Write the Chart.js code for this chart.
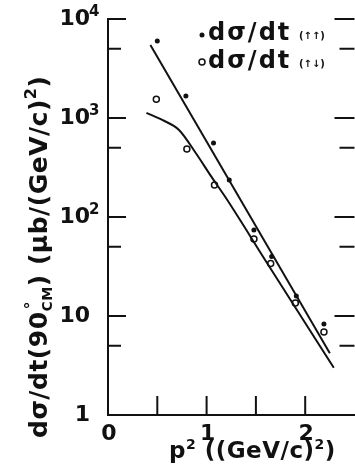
<!DOCTYPE html>
<html>
<head>
<meta charset="utf-8">
<script src="https://cdn.jsdelivr.net/npm/chart.js@4.4.1/dist/chart.umd.min.js"></script>
<style>
  html, body { margin: 0; padding: 0; background: #fff; overflow: hidden; }
  canvas { display: block; }
</style>
</head>
<body>
<canvas id="plot" width="360" height="474"></canvas>
<script>
// measured points, d sigma/dt (up up) and (up down)
const upUpX = [0.50, 0.79, 1.07, 1.23, 1.48, 1.66, 1.91, 2.19];
const upUpY = [6000, 1670, 560, 237, 74, 40, 15.9, 8.3];
const upDownX = [0.49, 0.80, 1.08, 1.48, 1.65, 1.90, 2.19];
const upDownY = [1550, 487, 210, 60, 34, 13.5, 6.9];

// the two drawn curves
const fitX = [0.43, 2.25];
const fitY = [5460, 4.2];
const curveX = [0.39, 0.55, 0.72, 0.89, 1.05, 1.19, 1.60, 2.29];
const curveY = [1125, 955, 757, 443, 254, 159, 36, 3.0];

// ticks
const xTicks = [0.5, 1, 1.5, 2];
const xTickLabels = ['0', '1', '2'];
const xLabelAt = [0, 1, 2];
const yMajor = [1, 10, 100, 1000, 10000];
const yMinor = [5, 50, 500, 5000];
const yBase = ['1', '10', '10', '10', '10'];
const yExp = ['', '', '2', '3', '4'];

const ink = '#111';
const face = '"DejaVu Sans", Verdana, sans-serif';

function pts(xs, ys) {
    return xs.map((v, i) => ({ x: v, y: ys[i] }));
}

// ticks, labels, titles and legend drawn on top, placed by the chart's scales
const decor = {
    id: 'decor',
    afterDraw(chart) {
        const ctx = chart.ctx;
        const a = chart.chartArea;
        const x = chart.scales.x;
        const y = chart.scales.y;
        ctx.save();
        ctx.strokeStyle = ink;
        ctx.fillStyle = ink;
        ctx.lineWidth = 2;

        // inward ticks (the right-hand set belongs to the next panel's frame)
        ctx.beginPath();
        yMajor.forEach(v => {
            let py = y.getPixelForValue(v);
            ctx.moveTo(a.left, py); ctx.lineTo(a.left + 18, py);
            ctx.moveTo(a.right, py); ctx.lineTo(a.right - 20, py);
        });
        yMinor.forEach(v => {
            let py = y.getPixelForValue(v);
            ctx.moveTo(a.left, py); ctx.lineTo(a.left + 13, py);
            ctx.moveTo(a.right, py); ctx.lineTo(a.right - 15, py);
        });
        xTicks.forEach(v => {
            let px = x.getPixelForValue(v);
            ctx.moveTo(px, a.bottom); ctx.lineTo(px, a.bottom - 19);
        });
        ctx.stroke();

        // y tick labels
        ctx.textBaseline = 'alphabetic';
        yMajor.forEach((v, i) => {
            let py = y.getPixelForValue(v);
            ctx.font = 'bold 22px ' + face;
            ctx.textAlign = 'right';
            ctx.fillText(yBase[i], 90, py + 6);
            if (yExp[i]) {
                ctx.font = 'bold 15px ' + face;
                ctx.textAlign = 'left';
                ctx.fillText(yExp[i], 89, py - 3);
            }
        });

        // x tick labels
        ctx.font = 'bold 22px ' + face;
        ctx.textAlign = 'center';
        xLabelAt.forEach((v, i) => {
            ctx.fillText(xTickLabels[i], x.getPixelForValue(v) + 1, 440);
        });

        // x title
        ctx.textAlign = 'left';
        let cx = 169;
        const run = (t, size, dy) => {
            ctx.font = 'bold ' + size + 'px ' + face;
            ctx.fillText(t, cx, 458 + dy);
            cx += ctx.measureText(t).width;
        };
        ctx.letterSpacing = '0.5px';
        run('p', 23, 0);
        run('2', 14, -9);
        run(' ((GeV/c)', 23, 0);
        run('2', 14, -9);
        run(')', 23, 0);

        // y title, rotated
        ctx.save();
        ctx.translate(47, 438);
        ctx.rotate(-Math.PI / 2);
        cx = 0;
        const runY = (t, size, dy) => {
            ctx.font = 'bold ' + size + 'px ' + face;
            ctx.fillText(t, cx, dy);
            cx += ctx.measureText(t).width;
        };
        runY('d\u03c3/dt(90', 25, 0);
        ctx.font = 'bold 16px ' + face;
        ctx.fillText('\u00b0', cx + 2, -11);
        runY('CM', 14, 5);
        runY(') (\u03bcb/(GeV/c)', 25, 0);
        runY('2', 16, -11);
        runY(')', 25, 0);
        ctx.restore();
        ctx.letterSpacing = '0px';

        // legend
        const rows = [
            { mark: 'dot', base: 40, my: 35, tag: '(\u2191\u2191)' },
            { mark: 'ring', base: 68, my: 62, tag: '(\u2191\u2193)' }
        ];
        rows.forEach(r => {
            ctx.beginPath();
            if (r.mark === 'dot') {
                ctx.arc(202, r.my, 2.5, 0, Math.PI * 2);
                ctx.fill();
            } else {
                ctx.lineWidth = 1.5;
                ctx.arc(202, r.my, 3, 0, Math.PI * 2);
                ctx.stroke();
            }
            ctx.font = 'bold 24px ' + face;
            ctx.letterSpacing = '2px';
            ctx.fillText('d\u03c3/dt', 208, r.base);
            ctx.letterSpacing = '0px';
            ctx.font = 'bold 10px ' + face;
            ctx.fillText(r.tag, 299, r.base - 1);
        });
        ctx.restore();
    }
};

const config = {
    type: 'line',
    data: {
        datasets: [
            {
                label: 'fit',
                data: pts(fitX, fitY),
                borderColor: ink,
                borderWidth: 2,
                pointRadius: 0,
                fill: false
            },
            {
                label: 'curve',
                data: pts(curveX, curveY),
                borderColor: ink,
                borderWidth: 2,
                pointRadius: 0,
                cubicInterpolationMode: 'monotone',
                fill: false
            },
            {
                label: 'd\u03c3/dt(\u2191\u2191)',
                data: pts(upUpX, upUpY),
                showLine: false,
                pointStyle: 'circle',
                pointRadius: 2.5,
                pointBackgroundColor: ink,
                pointBorderWidth: 0
            },
            {
                label: 'd\u03c3/dt(\u2191\u2193)',
                data: pts(upDownX, upDownY),
                showLine: false,
                pointStyle: 'circle',
                pointRadius: 3,
                pointBackgroundColor: '#fff',
                pointBorderColor: ink,
                pointBorderWidth: 1.5
            }
        ]
    },
    options: {
        responsive: false,
        animation: false,
        layout: { padding: { left: 108, top: 19, right: 2, bottom: 59 } },
        plugins: {
            legend: { display: false },
            tooltip: { enabled: false }
        },
        scales: {
            x: {
                type: 'linear',
                min: 0,
                max: 2.5,
                ticks: { display: false },
                grid: { display: false },
                border: { display: true, color: ink, width: 2 },
                afterFit: s => { s.height = 0; }
            },
            y: {
                type: 'logarithmic',
                min: 1,
                max: 10000,
                ticks: { display: false },
                grid: { display: false },
                border: { display: true, color: ink, width: 2 },
                afterFit: s => { s.width = 0; }
            }
        }
    },
    plugins: [decor]
};

new Chart(document.getElementById('plot'), config);
</script>
</body>
</html>
